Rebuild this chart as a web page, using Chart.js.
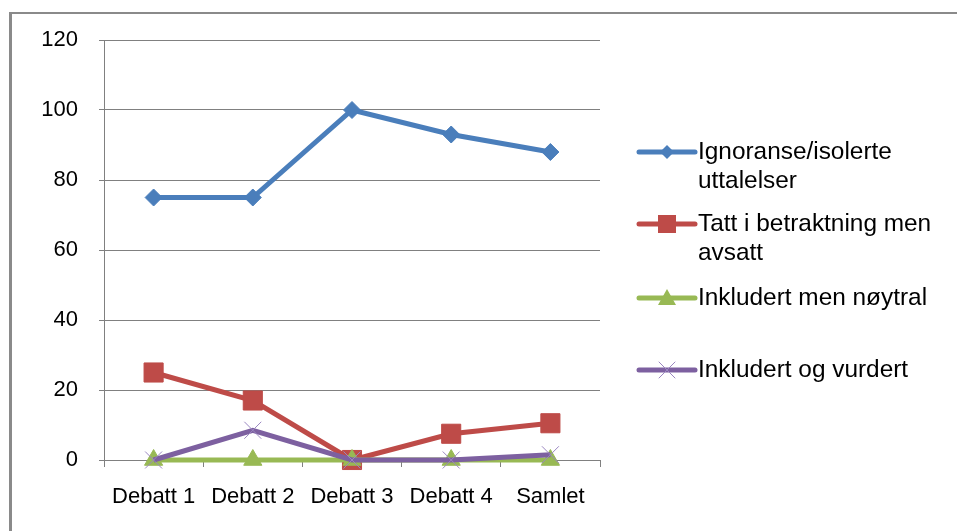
<!DOCTYPE html>
<html lang="no">
<head>
    <meta charset="UTF-8">
    <title>Debatt - linjediagram</title>
    <script src="https://cdn.jsdelivr.net/npm/chart.js@4.4.0/dist/chart.umd.min.js"></script>
    <style>
        body { margin: 0; background: #fff; }
        #wrap { position: relative; width: 957px; height: 531px; overflow: hidden; }
        #frame {
            position: absolute; left: 9px; top: 12px; width: 1000px; height: 600px;
            border-left: 3px solid #8a8a8a; border-top: 2px solid #8a8a8a;
            pointer-events: none;
        }
        #myChart { position: absolute; left: 0; top: 0; }
    </style>
</head>
<body>
<div id="wrap">
    <div id="frame"></div>
    <canvas id="myChart" width="957" height="531"></canvas>
</div>

<script>
    // data
    const categories = ['Debatt 1', 'Debatt 2', 'Debatt 3', 'Debatt 4', 'Samlet'];
    const ignoranse = [75, 75, 100, 93, 88];
    const tattIBetraktning = [25, 17, 0, 7.5, 10.5];
    const inkludertNoytral = [0, 0, 0, 0, 0];
    const inkludertVurdert = [0, 8.5, 0, 0, 1.5];
    const seriesNames = [
        'Ignoranse/isolerte uttalelser',
        'Tatt i betraktning men avsatt',
        'Inkludert men nøytral',
        'Inkludert og vurdert'
    ];
    // legend text as it is wrapped in the picture
    const legendLines = [
        ['Ignoranse/isolerte', 'uttalelser'],
        ['Tatt i betraktning men', 'avsatt'],
        ['Inkludert men nøytral'],
        ['Inkludert og vurdert']
    ];
    const yMin = 0, yMax = 120, yStep = 20;

    const FONT = 'Liberation Sans';
    const colors = ['#4a7ebb', '#be4b48', '#98b954', '#7d60a0'];

    // legend drawn by hand so the labels can wrap like the original
    const sideLegend = {
        id: 'sideLegend',
        afterDraw(chart) {
            const ctx = chart.ctx;
            const rows = [[152, 181], [224, 253], [298], [370]];
            const x0 = 639, x1 = 695, xm = 667, xt = 698;
            ctx.save();
            chart.data.datasets.forEach((ds, i) => {
                const y = rows[i][0];
                ctx.strokeStyle = ds.borderColor;
                ctx.lineWidth = 5;
                ctx.lineCap = 'round';
                ctx.beginPath();
                ctx.moveTo(x0, y);
                ctx.lineTo(x1, y);
                ctx.stroke();
                ctx.fillStyle = ds.pointBackgroundColor;
                ctx.strokeStyle = ds.pointBorderColor;
                ctx.beginPath();
                if (ds.pointStyle === 'rectRot') {
                    ctx.moveTo(xm - 7, y); ctx.lineTo(xm, y - 7);
                    ctx.lineTo(xm + 7, y); ctx.lineTo(xm, y + 7);
                    ctx.closePath(); ctx.fill();
                } else if (ds.pointStyle === 'rect') {
                    ctx.rect(xm - 9, y - 9, 18, 18); ctx.fill();
                } else if (ds.pointStyle === 'triangle') {
                    ctx.moveTo(xm, y - 9); ctx.lineTo(xm + 9, y + 7);
                    ctx.lineTo(xm - 9, y + 7); ctx.closePath(); ctx.fill();
                } else {
                    ctx.lineWidth = 1;
                    ctx.moveTo(xm - 8, y - 8); ctx.lineTo(xm + 8, y + 8);
                    ctx.moveTo(xm + 8, y - 8); ctx.lineTo(xm - 8, y + 8);
                    ctx.stroke();
                }
                ctx.fillStyle = '#000';
                ctx.font = '24.4px "' + FONT + '"';
                ctx.textBaseline = 'middle';
                ctx.textAlign = 'left';
                legendLines[i].forEach((t, k) => ctx.fillText(t, xt, rows[i][k]));
            });
            ctx.restore();
        }
    };

    function series(label, values, color, style, radius, order) {
        return {
            label: label,
            data: values,
            borderColor: color,
            backgroundColor: color,
            borderWidth: 5,
            pointStyle: style,
            pointRadius: radius,
            pointHoverRadius: radius,
            pointBackgroundColor: color,
            pointBorderColor: color,
            pointBorderWidth: 1,
            tension: 0,
            clip: false,
            order: order
        };
    }

    const dsets = [
        series(seriesNames[0], ignoranse, colors[0], 'rectRot', 8.5, 4),
        series(seriesNames[1], tattIBetraktning, colors[1], 'rect', 13.5, 3),
        series(seriesNames[2], inkludertNoytral, colors[2], 'triangle', 10.5, 2),
        series(seriesNames[3], inkludertVurdert, colors[3], 'crossRot', 12, 1)
    ];
    dsets[3].pointBorderColor = '#9a86c0';

    const ctx = document.getElementById('myChart');
    const myChart = new Chart(ctx, {
        type: 'line',
        data: { labels: categories, datasets: dsets },
        options: {
            responsive: false,
            animation: false,
            layout: { padding: { left: 0, top: 40, right: 357, bottom: 0 } },
            plugins: {
                legend: { display: false },
                tooltip: { enabled: false }
            },
            scales: {
                x: {
                    offset: true,
                    grid: {
                        offset: true,
                        drawOnChartArea: false,
                        drawTicks: true,
                        tickLength: 7,
                        color: '#808080'
                    },
                    border: { color: '#808080', width: 1 },
                    ticks: {
                        color: '#000',
                        font: { family: FONT, size: 22 },
                        padding: 17,
                        maxRotation: 0
                    },
                    afterFit(scale) { scale.height = 71; }
                },
                y: {
                    min: yMin,
                    max: yMax,
                    ticks: {
                        stepSize: yStep,
                        color: '#000',
                        font: { family: FONT, size: 22 },
                        padding: 21
                    },
                    grid: { color: '#808080', lineWidth: 1, tickLength: 5 },
                    border: { color: '#808080', width: 1 },
                    afterFit(scale) { scale.width = 104; }
                }
            }
        },
        plugins: [sideLegend]
    });
</script>
</body>
</html>
